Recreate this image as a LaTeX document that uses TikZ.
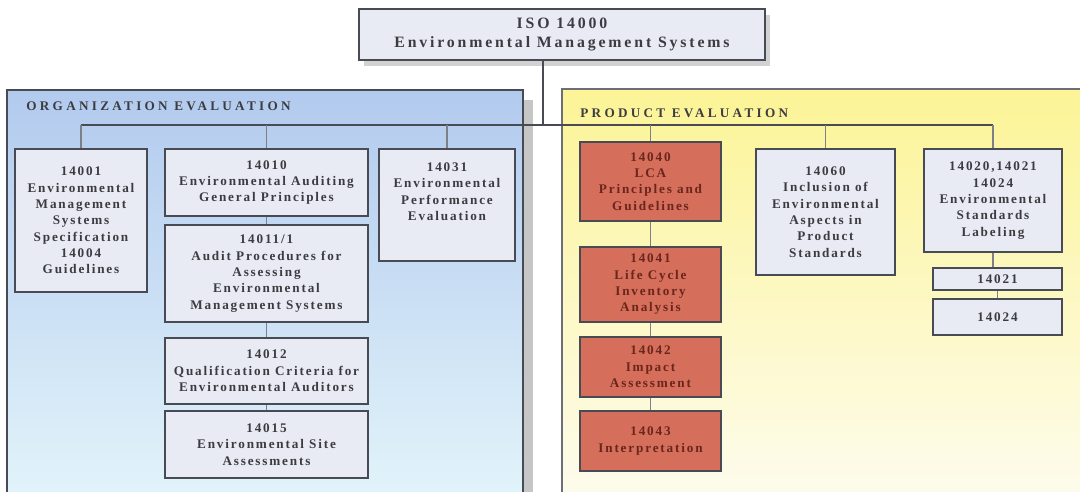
\documentclass[tikz,border=0pt]{standalone}
\usepackage{fontspec}
\setmainfont{Liberation Serif}[LetterSpace=14]
\definecolor{boxfill}{RGB}{232,234,244}
\definecolor{lcafill}{RGB}{214,110,92}
\definecolor{lcatext}{RGB}{105,38,28}
\definecolor{edge}{RGB}{72,74,84}
\definecolor{orgtop}{RGB}{178,202,238}
\definecolor{orgbot}{RGB}{226,244,250}
\definecolor{prodtop}{RGB}{252,244,150}
\definecolor{prodbot}{RGB}{253,252,238}
\definecolor{txt}{RGB}{60,60,64}

\tikzset{
  stdbox/.style={draw=edge, line width=1pt, fill=boxfill, align=center, inner sep=0pt,
    text=txt, font=\bfseries\fontsize{7.5}{9.3}\selectfont},
  lcabox/.style={stdbox, fill=lcafill, text=lcatext},
  tick/.style={draw=edge!70, line width=0.6pt},
  busline/.style={draw=edge, line width=1.6pt},
  paneltitle/.style={anchor=west, inner sep=0pt, text=txt,
    font=\bfseries\fontsize{7.5}{8}\selectfont\addfontfeature{LetterSpace=25}}
}

\begin{document}
\begin{tikzpicture}[x=0.02cm,y=-0.02cm]
\clip (0,0) rectangle (1080,492);
\fill[white] (0,0) rectangle (1080,492);

% panels
\fill[gray!45] (513,100) rectangle (533,500);
\shade[top color=orgtop,bottom color=orgbot,draw=edge,line width=0.8pt] (7,90) rectangle (523,500);
\shade[top color=prodtop,bottom color=prodbot,draw=edge!80,line width=0.8pt] (562,89) rectangle (1090,500);
\node[paneltitle] (orgtitle) at (26,106) {ORGANIZATION EVALUATION};
\node[paneltitle] (prodtitle) at (580,113) {PRODUCT EVALUATION};

% top
\fill[gray!35] (364,15) rectangle (770,66);
\node[stdbox, minimum width=8.12cm, minimum height=1.02cm,
  font=\bfseries\fontsize{9}{11.3}\selectfont\addfontfeature{LetterSpace=18}] (iso) at (562,34.5)
  {ISO 14000\\Environmental Management Systems};

% organization
\node[stdbox, minimum width=2.64cm, minimum height=2.86cm] (ems) at (81,220.5)
  {14001\\Environmental\\Management\\Systems\\Specification\\14004\\Guidelines};
\node[stdbox, minimum width=4.06cm, minimum height=1.34cm] (audit) at (266.5,182.5)
  {14010\\Environmental Auditing\\General Principles};
\node[stdbox, minimum width=4.06cm, minimum height=1.94cm] (auditproc) at (266.5,273.5)
  {14011/1\\Audit Procedures for\\Assessing\\Environmental\\Management Systems};
\node[stdbox, minimum width=4.06cm, minimum height=1.32cm] (auditors) at (266.5,371)
  {14012\\Qualification Criteria for\\Environmental Auditors};
\node[stdbox, minimum width=4.06cm, minimum height=1.34cm] (site) at (266.5,444.5)
  {14015\\Environmental Site\\Assessments};
\node[stdbox, minimum width=2.72cm, minimum height=2.24cm] (perf) at (447,205)
  {14031\\Environmental\\Performance\\Evaluation\\[6pt]};

% product
\node[lcabox, minimum width=2.82cm, minimum height=1.58cm] (lca) at (650.5,181.5)
  {14040\\LCA\\Principles and\\Guidelines};
\node[lcabox, minimum width=2.82cm, minimum height=1.50cm] (inventory) at (650.5,284.5)
  {14041\\Life Cycle\\Inventory\\Analysis};
\node[lcabox, minimum width=2.82cm, minimum height=1.20cm] (impact) at (650.5,367)
  {14042\\Impact\\Assessment};
\node[lcabox, minimum width=2.82cm, minimum height=1.20cm] (interp) at (650.5,441)
  {14043\\Interpretation};
\node[stdbox, minimum width=2.78cm, minimum height=2.52cm] (inclusion) at (825.5,212)
  {14060\\Inclusion of\\Environmental\\Aspects in\\Product\\Standards};
\node[stdbox, minimum width=2.76cm, minimum height=2.06cm] (labeling) at (993,200.5)
  {14020,14021\\14024\\Environmental\\Standards\\Labeling};
\node[stdbox, minimum width=2.58cm, minimum height=0.44cm] (lab21) at (997.5,279) {14021};
\node[stdbox, minimum width=2.58cm, minimum height=0.72cm] (lab24) at (997.5,317) {14024};

% connectors
\coordinate (stem) at (543,125);
\draw[busline] (stem |- iso.south) -- (stem);
\draw[busline] (stem -| ems.north) -- (stem -| labeling.north);
\foreach \b in {ems,audit,perf,lca,inclusion,labeling}
  \draw[tick] (\b.north) -- (\b.north |- stem);
\foreach \a/\b in {audit/auditproc,auditproc/auditors,auditors/site,lca/inventory,inventory/impact,impact/interp,labeling/lab21,lab21/lab24}
  \draw[tick] (\a.south) -- (\a.south |- \b.north);
\end{tikzpicture}
\end{document}
